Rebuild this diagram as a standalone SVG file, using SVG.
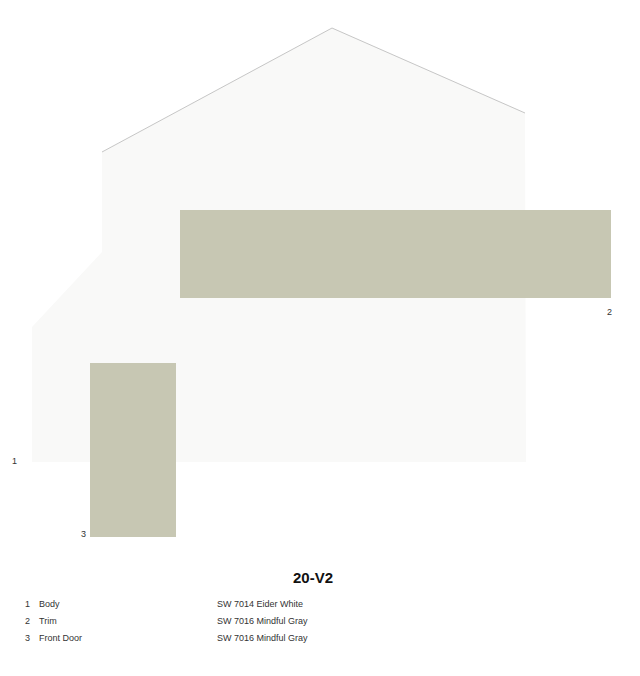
<svg xmlns="http://www.w3.org/2000/svg" width="640" height="676" viewBox="0 0 640 676">
<style>
.swatch{fill:#c7c7b3}
.lbl{font-family:"Liberation Sans",Arial,sans-serif;font-size:9px;fill:#333}
.title{font-family:"Liberation Sans",Arial,sans-serif;font-size:15px;font-weight:bold;fill:#111}
.roof{fill:none;stroke:#b8b8b8;stroke-width:0.8}
</style>
<rect width="640" height="676" fill="#ffffff"/>
<g id="body">
<path d="M332,28 L525,113 L526,462 L32,462 L32,327 L102,252 L102,152 Z" fill="#f9f9f8"/>
<path class="roof" d="M102,152 L332,28 L525,113"/>
</g>
<g id="trim">
<rect class="swatch" x="180" y="210" width="431" height="88"/>
</g>
<g id="door">
<rect class="swatch" x="90" y="363" width="86" height="174"/>
</g>
<g id="labels">
<text class="lbl" x="12" y="464">1</text>
<text class="lbl" x="607" y="315">2</text>
<text class="lbl" x="81" y="537">3</text>
</g>
<g id="legend">
<text class="title" x="293" y="583">20-V2</text>
<text class="lbl" x="25" y="607">1</text>
<text class="lbl" x="39" y="607">Body</text>
<text class="lbl" x="25" y="624">2</text>
<text class="lbl" x="39" y="624">Trim</text>
<text class="lbl" x="25" y="641">3</text>
<text class="lbl" x="39" y="641">Front Door</text>
<text class="lbl" x="217" y="607">SW 7014 Eider White</text>
<text class="lbl" x="217" y="624">SW 7016 Mindful Gray</text>
<text class="lbl" x="217" y="641">SW 7016 Mindful Gray</text>
</g>
<g id="connectors"></g>
</svg>
